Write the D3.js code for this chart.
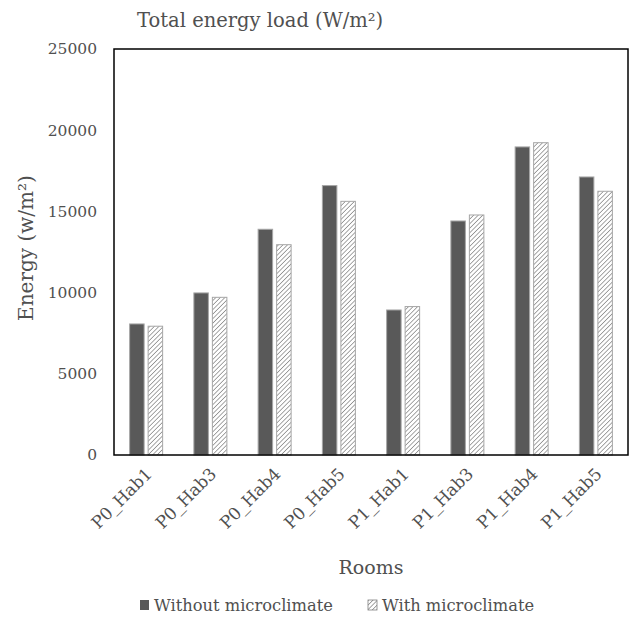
<!DOCTYPE html>
<html>
<head>
<meta charset="utf-8">
<script src="https://cdn.jsdelivr.net/npm/d3@7"></script>
<style>
  body { margin: 0; background: #fff; }
  text { font-family: "DejaVu Serif", serif; fill: #505050; }
</style>
</head>
<body>
<svg width="630" height="618"></svg>
<script>
var rooms = ["P0_Hab1", "P0_Hab3", "P0_Hab4", "P0_Hab5", "P1_Hab1", "P1_Hab3", "P1_Hab4", "P1_Hab5"];
var withoutMicro = [8070, 9980, 13900, 16590, 8930, 14410, 18970, 17120];
var withMicro = [7930, 9710, 12950, 15620, 9140, 14780, 19230, 16240];
var yTicks = [0, 5000, 10000, 15000, 20000, 25000];
var seriesNames = ["Without microclimate", "With microclimate"];

var svg = d3.select("svg"),
    margin = {left: 114, right: 2, top: 49, bottom: 163},
    width = 630 - margin.left - margin.right,
    height = 618 - margin.top - margin.bottom;

// hatch pattern for the second series
var defs = svg.append("defs");
var pat = defs.append("pattern")
    .attr("id", "hatch")
    .attr("patternUnits", "userSpaceOnUse")
    .attr("width", 3.2).attr("height", 3.2)
    .attr("patternTransform", "rotate(45)");
pat.append("rect").attr("width", 3.2).attr("height", 3.2).attr("fill", "#fff");
pat.append("line").attr("x1", 0).attr("y1", 0).attr("x2", 0).attr("y2", 3.2)
    .attr("stroke", "#777").attr("stroke-width", 1.3);

var g = svg.append("g").attr("transform", "translate(" + margin.left + "," + margin.top + ")");

var x = d3.scaleBand().domain(rooms).range([0, width]);
var y = d3.scaleLinear().domain([0, 25000]).range([height, 0]);

var barW = 14.5, gap = 4;

var groups = g.selectAll(".grp")
    .data(rooms)
    .enter().append("g")
    .attr("transform", function(d) { return "translate(" + (x(d) + x.bandwidth() / 2) + ",0)"; });

groups.append("rect")
    .attr("x", -barW - gap / 2)
    .attr("width", barW)
    .attr("y", function(d, i) { return y(withoutMicro[i]); })
    .attr("height", function(d, i) { return height - y(withoutMicro[i]); })
    .attr("fill", "#595959")
    .attr("stroke", "#a6a6a6")
    .attr("stroke-width", 1);

groups.append("rect")
    .attr("x", gap / 2)
    .attr("width", barW)
    .attr("y", function(d, i) { return y(withMicro[i]); })
    .attr("height", function(d, i) { return height - y(withMicro[i]); })
    .attr("fill", "url(#hatch)")
    .attr("stroke", "#a6a6a6")
    .attr("stroke-width", 1);

// y axis labels
var yAxis = g.append("g")
    .call(d3.axisLeft(y).tickValues(yTicks).tickSize(0).tickPadding(17).tickFormat(d3.format("d")));
yAxis.select(".domain").remove();
yAxis.selectAll("text").style("font-size", "15.5px").style("font-family", "DejaVu Serif").attr("fill", "#505050");

// x axis labels
var xAxis = g.append("g")
    .attr("transform", "translate(0," + height + ")")
    .call(d3.axisBottom(x).tickSize(0).tickPadding(0));
xAxis.select(".domain").remove();
xAxis.selectAll("text")
    .style("font-size", "17px").style("font-family", "DejaVu Serif").attr("fill", "#505050")
    .attr("text-anchor", "end")
    .attr("dy", 0)
    .attr("transform", "translate(7,20) rotate(-45)");

// frame
g.append("rect")
    .attr("width", width).attr("height", height)
    .attr("fill", "none").attr("stroke", "#000").attr("stroke-width", 1.5);

// titles
svg.append("text").attr("x", 137).attr("y", 27)
    .style("font-size", "19.5px").text("Total energy load (W/m²)");

svg.append("text").attr("transform", "translate(33,248) rotate(-90)")
    .attr("text-anchor", "middle").style("font-size", "20px").text("Energy (w/m²)");

svg.append("text").attr("x", 371).attr("y", 574)
    .attr("text-anchor", "middle").style("font-size", "19px").text("Rooms");

// legend
var legX = [140, 368];
var leg = svg.selectAll(".leg").data(seriesNames).enter().append("g")
    .attr("transform", function(d, i) { return "translate(" + legX[i] + ",600)"; });
leg.append("rect").attr("width", 9).attr("height", 10)
    .attr("fill", function(d, i) { return i ? "url(#hatch)" : "#595959"; })
    .attr("stroke", function(d, i) { return i ? "#7f7f7f" : "none"; })
    .attr("stroke-width", 0.8);
leg.append("text").attr("x", 14).attr("y", 11)
    .style("font-size", "16.3px").text(function(d) { return d; });
</script>
</body>
</html>
